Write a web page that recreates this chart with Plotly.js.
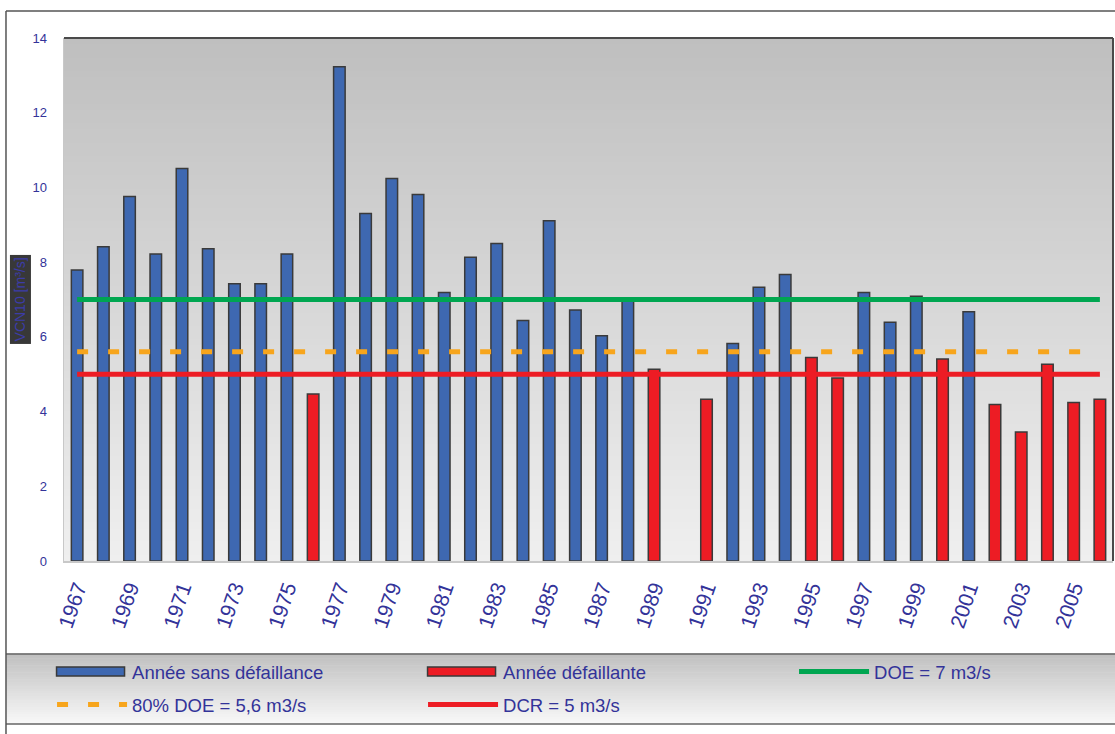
<!DOCTYPE html>
<html>
<head>
<meta charset="utf-8">
<script src="https://cdn.plot.ly/plotly-3.0.1.min.js"></script>
<style>
html,body{margin:0;padding:0;background:#fff;}
#chart{width:1115px;height:734px;}
</style>
</head>
<body>
<div id="chart"></div>
<script>
// ---- data ----
const years = [1967,1968,1969,1970,1971,1972,1973,1974,1975,1976,
               1977,1978,1979,1980,1981,1982,1983,1984,1985,1986,
               1987,1988,1989,1990,1991,1992,1993,1994,1995,1996,
               1997,1998,1999,2000,2001,2002,2003,2004,2005,2006];
// VCN10 for years without failure (blue)
const sansDefaillance = [7.79,8.41,9.76,8.22,10.51,8.36,7.42,7.42,8.22,null,
                         13.23,9.30,10.24,9.81,7.19,8.13,8.50,6.44,9.11,6.72,
                         6.03,6.95,null,null,null,5.82,7.33,7.67,null,null,
                         7.19,6.39,7.09,null,6.67,null,null,null,null,null];
// VCN10 for failing years (red)
const defaillante = [null,null,null,null,null,null,null,null,null,4.47,
                     null,null,null,null,null,null,null,null,null,null,
                     null,null,5.13,null,4.33,null,null,null,5.45,4.90,
                     null,null,null,5.41,null,4.19,3.45,5.27,4.24,4.33];
const DOE = 7;
const DOE80 = 5.6;
const DCR = 5;
const seriesNames = ["Année sans défaillance","Année défaillante","DOE = 7 m3/s","80% DOE = 5,6 m3/s","DCR = 5 m3/s"];
const yTitle = "VCN10 [m³/s]";

// ---- styling ----
const navy = '#333399';
const font = 'Liberation Sans, Arial, Helvetica, sans-serif';

function lerpColor(c1, c2, t) {
  const a = c1.match(/\w\w/g).map(h => parseInt(h,16));
  const b = c2.match(/\w\w/g).map(h => parseInt(h,16));
  const c = a.map((v,i) => Math.round(v + (b[i]-v)*t));
  return 'rgb(' + c.join(',') + ')';
}

const traces = [
  {type:'bar', x: years, y: sansDefaillance, name: seriesNames[0], width: 0.44,
   marker:{color:'#3e68b1', line:{color:'#3a3a3a', width:1.5}}},
  {type:'bar', x: years, y: defaillante, name: seriesNames[1], width: 0.44,
   marker:{color:'#ed1c24', line:{color:'#3a3a3a', width:1.5}}},
  {type:'scatter', mode:'lines', x: years, y: years.map(() => DOE), name: seriesNames[2],
   line:{color:'#00a651', width:5}},
  {type:'scatter', mode:'lines', x: years, y: years.map(() => DOE80), name: seriesNames[3],
   line:{color:'#f7a51c', width:5, dash:'11px,20px'}, legend:'legend2'},
  {type:'scatter', mode:'lines', x: years, y: years.map(() => DCR), name: seriesNames[4],
   line:{color:'#ed1c24', width:5}, legend:'legend2'}
];

const shapes = [];
// plot area gradient
const N = 80;
for (let i = 0; i < N; i++) {
  shapes.push({type:'rect', xref:'paper', yref:'paper', layer:'below',
    x0:0, x1:1, y0: i/N, y1: (i+1)/N + 0.002,
    fillcolor: lerpColor('efefef','bfbfbf', i/(N-1)), line:{width:0}});
}
// legend box gradient
const ly0 = -0.3117, ly1 = -0.1778;
const M = 30;
for (let i = 0; i < M; i++) {
  shapes.push({type:'rect', xref:'paper', yref:'paper', layer:'below',
    x0:-0.0553, x1:1.003, y0: ly0 + (ly1-ly0)*i/M, y1: ly0 + (ly1-ly0)*(i+1)/M + 0.001,
    fillcolor: lerpColor('f8f8f8','c0c0c0', i/(M-1)), line:{width:0}});
}
shapes.push({type:'line', xref:'paper', yref:'paper', x0:-0.0553, x1:1.003, y0:ly1, y1:ly1, line:{color:'#666', width:1.5}});
shapes.push({type:'line', xref:'paper', yref:'paper', x0:-0.0553, x1:1.003, y0:ly0, y1:ly0, line:{color:'#666', width:1.5}});
// outer frame
shapes.push({type:'line', xref:'paper', yref:'paper', x0:-0.0553, x1:1.01, y0:1.0516, y1:1.0516, line:{color:'#555', width:1.5}});
shapes.push({type:'line', xref:'paper', yref:'paper', x0:-0.0553, x1:-0.0553, y0:1.0516, y1:-0.4, line:{color:'#555', width:1.5}});
// plot area top & right border
shapes.push({type:'line', xref:'paper', yref:'paper', x0:0, x1:1, y0:1, y1:1, line:{color:'#4a4a4a', width:2}});
shapes.push({type:'line', xref:'paper', yref:'paper', x0:1, x1:1, y0:0, y1:1, line:{color:'#4a4a4a', width:2}});

const legendCommon = {
  orientation:'h', xanchor:'left', yanchor:'top',
  bgcolor:'rgba(0,0,0,0)', borderwidth:0,
  font:{size:18.5, color:navy, family:font},
  entrywidth:286, entrywidthmode:'pixels', itemwidth:70,
  traceorder:'normal'
};

const layout = {
  width:1115, height:734,
  margin:{l:64, r:2, t:38, b:173, autoexpand:false},
  paper_bgcolor:'#ffffff', plot_bgcolor:'rgba(0,0,0,0)',
  barmode:'overlay',
  showlegend:true,
  font:{family:font, color:navy},
  xaxis:{
    range:[1966.5, 2006.5], tick0:1967, dtick:2, tickmode:'linear',
    tickangle:-71, tickfont:{size:21, color:navy, family:font},
    showgrid:false, zeroline:false, showline:true, linecolor:'#c8c8c8', linewidth:1.5,
    ticks:'', ticklabelstandoff:5, automargin:false
  },
  yaxis:{
    range:[0,14], dtick:2, tick0:0,
    tickfont:{size:13, color:navy, family:font},
    showgrid:false, zeroline:false, showline:true, linecolor:'#c8c8c8', linewidth:1.5,
    ticks:'', ticklabelstandoff:13, automargin:false
  },
  legend: Object.assign({}, legendCommon, {x:-0.0114, y:-0.176}),
  legend2: Object.assign({}, legendCommon, {x:-0.0114, y:-0.239}),
  annotations:[{
    xref:'paper', yref:'paper', x:-0.042, y:0.5, xanchor:'center', yanchor:'middle',
    text: yTitle, textangle:-90, showarrow:false,
    font:{size:14, color:'#3c3ca8', family:font},
    bgcolor:'#383838', borderpad:2
  }],
  shapes: shapes
};

function widenLegendBars(gd){
  gd.querySelectorAll('g.legendpoints path').forEach(function(p){
    const d = p.getAttribute('d') || '';
    if (d.indexOf('H-6V-6') >= 0 || p.classList.contains('legendbar')) {
      p.setAttribute('d','M-35.5,4.5H32.5V-4.5H-35.5Z');
    }
  });
}
const gdiv = document.getElementById('chart');
Plotly.newPlot(gdiv, traces, layout, {displayModeBar:false, staticPlot:true}).then(function(gd){
  widenLegendBars(gd);
  gd.on('plotly_afterplot', function(){ widenLegendBars(gd); });
  setTimeout(function(){ widenLegendBars(gd); }, 30);
});
</script>
</body>
</html>
